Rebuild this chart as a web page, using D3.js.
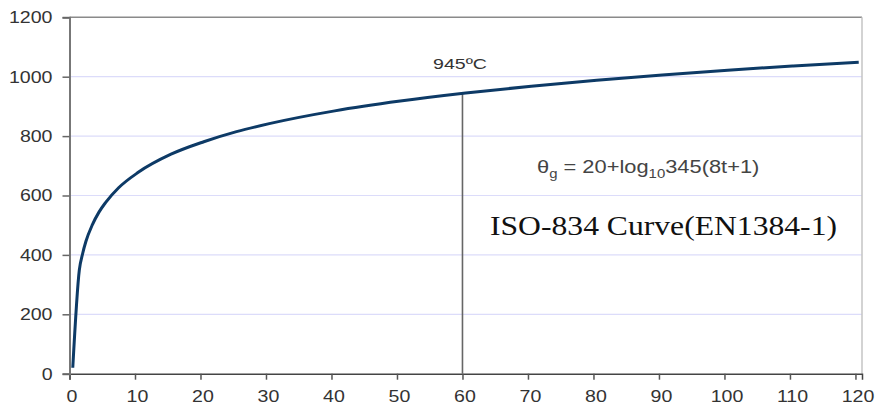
<!DOCTYPE html>
<html>
<head>
<meta charset="utf-8">
<script src="https://cdn.jsdelivr.net/npm/d3@7"></script>
<style>
  body { margin: 0; background: #fff; }
  .tick text { font-family: "Liberation Sans", Arial, sans-serif; font-size: 17px; fill: #333; }
</style>
</head>
<body>
<div id="chart"></div>
<script>
// ISO-834 standard fire curve (minutes, °C)
var times = [0.5, 1.5, 2, 2.5, 3.5, 4.5, 5.5, 7.5, 10.5, 15.5, 20.5, 25.5, 30.5, 40.5, 50.5, 60.5, 70.5, 80.5, 90.5, 100.5, 110.5, 120.5];
var temps = [20, 349, 404, 445, 502, 544, 576, 626, 678, 739, 781, 815, 842, 885, 918, 945, 968, 988, 1006, 1022, 1036, 1049];

var xTicks = [0, 10, 20, 30, 40, 50, 60, 70, 80, 90, 100, 110, 120];
var yTicks = [0, 200, 400, 600, 800, 1000, 1200];
var gridValues = [200, 400, 600, 800, 1000];

var markTime = 60;
var markTemp = 945;

var svgWidth = 877;
var svgHeight = 414;

// the source picture is a bit stretched sideways, so text is widened too
var stretch = 1.15;

var svg = d3.select("#chart")
  .append("svg")
  .attr("width", svgWidth)
  .attr("height", svgHeight);

var x = d3.scaleLinear()
  .domain([0, 121])
  .range([69.5, 862]);

var y = d3.scaleLinear()
  .domain([0, 1200])
  .range([373.7, 17.3]);

function widen(sel, factor) {
  sel.each(function() {
    d3.select(this)
      .attr("textLength", this.getComputedTextLength() * factor)
      .attr("lengthAdjust", "spacingAndGlyphs");
  });
}

// gridlines
svg.append("g")
  .selectAll("line")
  .data(gridValues)
  .enter()
  .append("line")
  .attr("x1", x(0))
  .attr("x2", x(121))
  .attr("y1", d => y(d))
  .attr("y2", d => y(d))
  .attr("stroke", "#dcdcfa")
  .attr("stroke-width", 1.2);

// frame top and right
svg.append("line")
  .attr("x1", x(0)).attr("x2", x(121))
  .attr("y1", y(1200)).attr("y2", y(1200))
  .attr("stroke", "#8a8a8a").attr("stroke-width", 1.5);

svg.append("line")
  .attr("x1", x(121)).attr("x2", x(121))
  .attr("y1", y(1200)).attr("y2", y(0))
  .attr("stroke", "#c4c4c4").attr("stroke-width", 1.5);

// axes
var bottomAxis = d3.axisBottom(x)
  .tickValues(xTicks)
  .tickFormat(d3.format("d"))
  .tickSize(6)
  .tickPadding(10);

var leftAxis = d3.axisLeft(y)
  .tickValues(yTicks)
  .tickFormat(d3.format("d"))
  .tickSize(7)
  .tickPadding(10);

var gx = svg.append("g")
  .attr("transform", `translate(0, ${y(0)})`)
  .call(bottomAxis);
gx.select(".domain").attr("stroke", "#444").attr("stroke-width", 1.5);
gx.selectAll(".tick line").attr("stroke", "#555").attr("stroke-width", 1.5);
gx.selectAll(".tick text").attr("dx", 2);
widen(gx.selectAll(".tick text"), stretch);

var gy = svg.append("g")
  .attr("transform", `translate(${x(0)}, 0)`)
  .call(leftAxis);
gy.select(".domain").attr("stroke", "#777").attr("stroke-width", 2);
gy.selectAll(".tick line").attr("stroke", "#666").attr("stroke-width", 1.5);
widen(gy.selectAll(".tick text"), stretch);

// marker line at 60 minutes
svg.append("line")
  .attr("x1", x(markTime)).attr("x2", x(markTime))
  .attr("y1", y(markTemp)).attr("y2", y(0))
  .attr("stroke", "#666")
  .attr("stroke-width", 1.6);

// curve
var line = d3.line()
  .x((d, i) => x(times[i]))
  .y(d => y(d))
  .curve(d3.curveMonotoneX);

svg.append("path")
  .datum(temps)
  .attr("d", line)
  .attr("fill", "none")
  .attr("stroke", "#0d3a66")
  .attr("stroke-width", 3);

// labels
svg.append("text")
  .attr("x", 433)
  .attr("y", 69)
  .attr("font-family", "Liberation Sans, Arial, sans-serif")
  .attr("font-size", 15)
  .attr("fill", "#333")
  .attr("textLength", 54)
  .attr("lengthAdjust", "spacingAndGlyphs")
  .text(markTemp + "ºC");

var formula = svg.append("text")
  .attr("x", 537)
  .attr("y", 173)
  .attr("font-family", "Liberation Sans, Arial, sans-serif")
  .attr("font-size", 19)
  .attr("fill", "#444")
  .attr("transform", `translate(537,0) scale(${stretch},1) translate(-537,0)`);
formula.append("tspan").text("θ");
formula.append("tspan").attr("font-size", 13).attr("dy", 5).text("g");
formula.append("tspan").attr("dy", -5).text(" = 20+log");
formula.append("tspan").attr("font-size", 13).attr("dy", 5).text("10");
formula.append("tspan").attr("dy", -5).text("345(8t+1)");

svg.append("text")
  .attr("x", 490)
  .attr("y", 235)
  .attr("font-family", "Liberation Serif, Times New Roman, serif")
  .attr("font-size", 27)
  .attr("fill", "#111")
  .attr("textLength", 347)
  .attr("lengthAdjust", "spacingAndGlyphs")
  .text("ISO-834 Curve(EN1384-1)");
</script>
</body>
</html>
